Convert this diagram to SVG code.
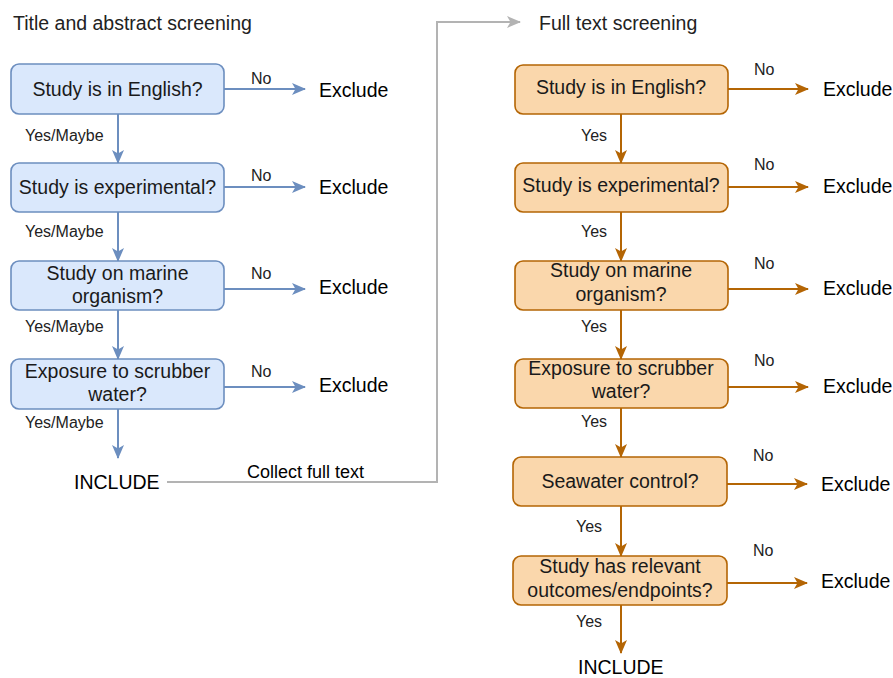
<svg xmlns="http://www.w3.org/2000/svg" width="893" height="678" viewBox="0 0 893 678">
<defs>
<marker id="ab" viewBox="0 0 14 12" refX="13" refY="6" markerWidth="14" markerHeight="12" markerUnits="userSpaceOnUse" orient="auto"><path d="M0,0 L14,6 L0,12 L3.5,6 Z" fill="#6c8ebf"/></marker>
<marker id="ao" viewBox="0 0 14 12" refX="13" refY="6" markerWidth="14" markerHeight="12" markerUnits="userSpaceOnUse" orient="auto"><path d="M0,0 L14,6 L0,12 L3.5,6 Z" fill="#b46504"/></marker>
<marker id="ag" viewBox="0 0 14 12" refX="13" refY="6" markerWidth="14" markerHeight="12" markerUnits="userSpaceOnUse" orient="auto"><path d="M0,0 L14,6 L0,12 L3.5,6 Z" fill="#b3b3b3"/></marker>
<style>
text{font-family:"Liberation Sans",Arial,sans-serif;fill:#1a1a1a}
.t{font-size:19.5px;text-anchor:middle}
.x{font-size:19.5px;fill:#000}
.h{font-size:19.5px;fill:#222}
.l{font-size:16px;fill:#222}
.bb{fill:#dae8fc;stroke:#6c8ebf;stroke-width:1.6}
.ob{fill:#fad7ac;stroke:#b46504;stroke-width:1.6}
.cb{stroke:#6c8ebf;stroke-width:2;fill:none;marker-end:url(#ab)}
.co{stroke:#b46504;stroke-width:2;fill:none;marker-end:url(#ao)}
.cg{stroke:#b3b3b3;stroke-width:2;fill:none;marker-end:url(#ag)}
</style>
</defs>
<rect width="893" height="678" fill="#fff"/>
<text class="h" x="13" y="30">Title and abstract screening</text>
<text class="h" x="539" y="30">Full text screening</text>

<g id="connectors">
<path class="cb" d="M224,89 H305"/>
<path class="cb" d="M224,187 H305"/>
<path class="cb" d="M224,289 H305"/>
<path class="cb" d="M224,387 H305"/>
<path class="cb" d="M118,114 V163"/>
<path class="cb" d="M118,212 V261"/>
<path class="cb" d="M118,310 V359"/>
<path class="cb" d="M118,409 V458"/>
<path class="cg" d="M167,482 H437 V22 H520"/>
<path class="co" d="M728,89 H808"/>
<path class="co" d="M728,187 H808"/>
<path class="co" d="M728,289 H808"/>
<path class="co" d="M728,387 H808"/>
<path class="co" d="M727,484 H807"/>
<path class="co" d="M727,583 H807"/>
<path class="co" d="M621,114 V163"/>
<path class="co" d="M621,212 V261"/>
<path class="co" d="M621,310 V359"/>
<path class="co" d="M621,408 V457"/>
<path class="co" d="M621,506 V556"/>
<path class="co" d="M621,605 V653"/>
<text class="l" x="251" y="84">No</text>
<text class="l" x="251" y="181">No</text>
<text class="l" x="251" y="279">No</text>
<text class="l" x="251" y="377">No</text>
<text class="l" x="25" y="141">Yes/Maybe</text>
<text class="l" x="25" y="237">Yes/Maybe</text>
<text class="l" x="25" y="332">Yes/Maybe</text>
<text class="l" x="25" y="428">Yes/Maybe</text>
<text class="x" x="247" y="478" style="font-size:18px">Collect full text</text>
<text class="l" x="754" y="75">No</text>
<text class="l" x="754" y="170">No</text>
<text class="l" x="754" y="269">No</text>
<text class="l" x="754" y="366">No</text>
<text class="l" x="753" y="461">No</text>
<text class="l" x="753" y="556">No</text>
<text class="l" x="581" y="141">Yes</text>
<text class="l" x="581" y="237">Yes</text>
<text class="l" x="581" y="332">Yes</text>
<text class="l" x="581" y="427">Yes</text>
<text class="l" x="576" y="532">Yes</text>
<text class="l" x="576" y="627">Yes</text>
</g>

<g id="l1"><rect class="bb" x="11" y="64" width="213" height="50" rx="8"/><text class="t" x="117.5" y="96">Study is in English?</text></g>
<g id="l2"><rect class="bb" x="11" y="163" width="213" height="49" rx="8"/><text class="t" x="117.5" y="194">Study is experimental?</text></g>
<g id="l3"><rect class="bb" x="11" y="261" width="213" height="49" rx="8"/><text class="t" x="117.5" y="280">Study on marine</text><text class="t" x="117.5" y="303">organism?</text></g>
<g id="l4"><rect class="bb" x="11" y="359" width="213" height="50" rx="8"/><text class="t" x="117.5" y="378">Exposure to scrubber</text><text class="t" x="117.5" y="401">water?</text></g>
<g id="lx1"><text class="x" x="319" y="97">Exclude</text></g>
<g id="lx2"><text class="x" x="319" y="194">Exclude</text></g>
<g id="lx3"><text class="x" x="319" y="294">Exclude</text></g>
<g id="lx4"><text class="x" x="319" y="392">Exclude</text></g>
<g id="linc"><text class="x" x="74" y="489">INCLUDE</text></g>

<g id="r1"><rect class="ob" x="515" y="65" width="213" height="49" rx="8"/><text class="t" x="621" y="94">Study is in English?</text></g>
<g id="r2"><rect class="ob" x="515" y="163" width="213" height="49" rx="8"/><text class="t" x="621" y="192">Study is experimental?</text></g>
<g id="r3"><rect class="ob" x="515" y="261" width="213" height="49" rx="8"/><text class="t" x="621" y="277">Study on marine</text><text class="t" x="621" y="301">organism?</text></g>
<g id="r4"><rect class="ob" x="515" y="359" width="213" height="49" rx="8"/><text class="t" x="621" y="375">Exposure to scrubber</text><text class="t" x="621" y="398">water?</text></g>
<g id="r5"><rect class="ob" x="513" y="457" width="214" height="49" rx="8"/><text class="t" x="620" y="488">Seawater control?</text></g>
<g id="r6"><rect class="ob" x="513" y="556" width="214" height="49" rx="8"/><text class="t" x="620" y="573">Study has relevant</text><text class="t" x="620" y="597">outcomes/endpoints?</text></g>
<g id="rx1"><text class="x" x="823" y="96">Exclude</text></g>
<g id="rx2"><text class="x" x="823" y="193">Exclude</text></g>
<g id="rx3"><text class="x" x="823" y="295">Exclude</text></g>
<g id="rx4"><text class="x" x="823" y="393">Exclude</text></g>
<g id="rx5"><text class="x" x="821" y="491">Exclude</text></g>
<g id="rx6"><text class="x" x="821" y="588">Exclude</text></g>
<g id="rinc"><text class="x" x="578" y="674">INCLUDE</text></g>
</svg>
